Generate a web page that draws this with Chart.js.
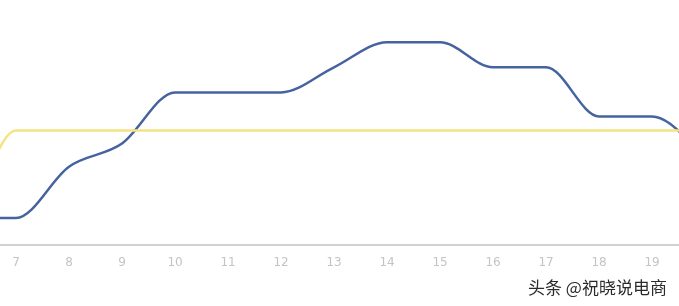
<!DOCTYPE html>
<html><head><meta charset="utf-8">
<script src="https://cdn.jsdelivr.net/npm/chart.js@4"></script>
<style>
html,body{margin:0;padding:0;background:#fff;}
#wrap{position:relative;width:679px;height:306px;}
#wm{position:absolute;left:528px;top:277px;font-family:"Noto Sans CJK SC",sans-serif;font-size:17px;color:#2b2b2b;white-space:nowrap;line-height:20px;text-shadow:0 0 2px #fff;}
</style></head>
<body><div id="wrap"><canvas id="c" width="679" height="306"></canvas><div id="wm">头条 @祝晓说电商</div></div>
<script>
const categories = [6, 7, 8, 9, 10, 11, 12, 13, 14, 15, 16, 17, 18, 19, 20];
const blueValues = [27, 27, 78, 101, 152, 152, 152, 177, 202, 202, 177, 177, 128, 128, 90];
const yellowValues = [5, 114, 114, 114, 114, 114, 114, 114, 114, 114, 114, 114, 114, 114, 114];
const tickLabels = [7, 8, 9, 10, 11, 12, 13, 14, 15, 16, 17, 18, 19];

const toPts = vals => categories.map((c, i) => ({x: c, y: vals[i]}));

new Chart(document.getElementById('c'), {
  type: 'line',
  data: {
    datasets: [
      {data: toPts(yellowValues), borderColor: '#f4e482', borderWidth: 2.5, pointRadius: 0, cubicInterpolationMode: 'monotone', fill: false},
      {data: toPts(blueValues), borderColor: '#46639f', borderWidth: 2.5, pointRadius: 0, cubicInterpolationMode: 'monotone', fill: false}
    ]
  },
  options: {
    responsive: false,
    animation: false,
    layout: {padding: {left: 0, right: 0, top: 0, bottom: 24.6}},
    plugins: {legend: {display: false}, tooltip: {enabled: false}},
    scales: {
      x: {
        type: 'linear',
        min: 6.698,
        max: 19.509,
        afterBuildTicks: s => { s.ticks = tickLabels.map(v => ({value: v})); },
        grid: {display: false, drawTicks: false},
        border: {display: true, color: '#d2d2d2', width: 2},
        ticks: {color: '#c4c4c4', font: {size: 12, family: 'DejaVu Sans'}, padding: 11, maxRotation: 0, autoSkip: false}
      },
      y: {display: false, min: 0, max: 244}
    }
  }
});
</script></body></html>
